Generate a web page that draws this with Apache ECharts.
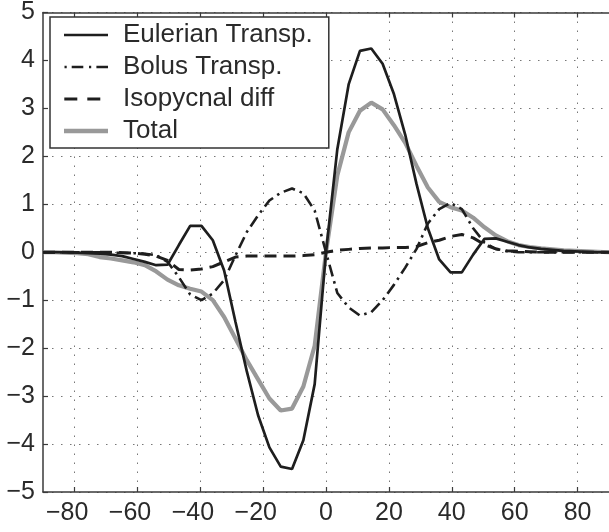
<!DOCTYPE html>
<html>
<head>
<meta charset="utf-8">
<script src="https://cdn.jsdelivr.net/npm/echarts@6/dist/echarts.min.js"></script>
<style>
html,body{margin:0;padding:0;background:#fff;}
#chart{width:609px;height:532px;}
</style>
</head>
<body>
<div id="chart"></div>
<script>
// latitude grid (degrees)
const lat = [-90,-86.4,-82.8,-79.2,-75.6,-72,-68.4,-64.8,-61.2,-57.6,-54,-50.4,-46.8,-43.2,-39.6,-36,-32.4,-28.8,-25.2,-21.6,-18,-14.4,-10.8,-7.2,-3.6,0,3.6,7.2,10.8,14.4,18,21.6,25.2,28.8,32.4,36,39.6,43.2,46.8,50.4,54,57.6,61.2,64.8,68.4,72,75.6,79.2,82.8,86.4,90];

const eulerian = [0,0,0,-0.01,-0.02,-0.03,-0.05,-0.08,-0.14,-0.2,-0.27,-0.26,0.15,0.55,0.55,0.25,-0.38,-1.45,-2.48,-3.4,-4.07,-4.47,-4.52,-3.92,-2.75,0,2.15,3.5,4.2,4.25,3.93,3.3,2.45,1.42,0.5,-0.15,-0.42,-0.42,-0.05,0.28,0.29,0.22,0.15,0.1,0.07,0.05,0.03,0.02,0.01,0,0];

const bolus = [0,0,0,0,0,0,-0.01,-0.01,-0.02,-0.03,-0.06,-0.2,-0.52,-0.88,-1.0,-0.86,-0.58,-0.07,0.42,0.77,1.08,1.24,1.33,1.23,0.87,0,-0.85,-1.15,-1.32,-1.25,-1.0,-0.68,-0.32,0.07,0.6,0.9,1.03,0.9,0.5,0.2,0.07,0.02,0,0,0,0,0,0,0,0,0];

const isopycnal = [0,0,0,0,0,0,0,-0.01,-0.02,-0.04,-0.08,-0.17,-0.36,-0.37,-0.35,-0.3,-0.2,-0.1,-0.08,-0.08,-0.08,-0.08,-0.08,-0.07,-0.05,0,0.04,0.06,0.08,0.09,0.09,0.1,0.1,0.12,0.2,0.25,0.33,0.37,0.3,0.16,0.07,0.03,0.02,0.01,0,0,0,0,0,0,0];

const total = [0,0,-0.01,-0.02,-0.04,-0.1,-0.13,-0.17,-0.21,-0.27,-0.4,-0.57,-0.69,-0.76,-0.82,-1.0,-1.35,-1.8,-2.25,-2.65,-3.05,-3.3,-3.26,-2.8,-1.95,0,1.6,2.5,2.95,3.12,2.98,2.65,2.28,1.8,1.35,1.05,0.94,0.87,0.72,0.52,0.35,0.23,0.15,0.11,0.08,0.06,0.04,0.03,0.02,0.01,0];

const seriesNames = ['Eulerian Transp.', 'Bolus Transp.', 'Isopycnal diff', 'Total'];
const xTicks = [-80,-60,-40,-20,0,20,40,60,80];

function pairs(ys){ return lat.map((x,i)=>[x, ys[i]]); }

const FONT = 'Liberation Sans, Arial, Helvetica, sans-serif';
const chart = echarts.init(document.getElementById('chart'), null, {renderer:'canvas'});

const axisColor = '#3a3a3a';
const gridDot = {show:true, lineStyle:{color:'#777', width:1, type:[1.5,7.5]}};

// legend icon shapes (44 x 5 box, corner specks keep the box size)
const corners = 'M0,0h0.01v0.01h-0.01Z M43.99,4.99h0.01v0.01h-0.01Z ';
const iconSolid = 'path://' + corners + 'M0,1.15H44V3.85H0Z';
const iconDashDot = 'path://' + corners + 'M0.5,1.15H2.7V3.85H0.5Z M7.7,1.15H19.3V3.85H7.7Z M25,1.15H27.2V3.85H25Z M32.4,1.15H44V3.85H32.4Z';
const iconDash = 'path://' + corners + 'M0.3,1.1H13.3V3.9H0.3Z M23.3,1.1H36.3V3.9H23.3Z';
const iconThick = 'path://' + corners + 'M0,0.2H44V4.8H0Z';

chart.setOption({
  backgroundColor:'#fff',
  animation:false,
  grid:{left:43, top:12, right:-4, bottom:40, containLabel:false},
  legend:{
    orient:'vertical', left:50, top:17,
    itemWidth:44, itemHeight:5, itemGap:6,
    padding:[5,16,4,14],
    borderColor:'#333', borderWidth:1.5, backgroundColor:'#fff',
    textStyle:{fontFamily:FONT, fontSize:26, color:'#2a2a2a', padding:[0,0,0,10]},
    data:[
      {name:seriesNames[0], icon:iconSolid},
      {name:seriesNames[1], icon:iconDashDot},
      {name:seriesNames[2], icon:iconDash},
      {name:seriesNames[3], icon:iconThick}
    ]
  },
  xAxis:[{
    type:'value', min:-90, max:90,
    axisLine:{show:true, onZero:false, lineStyle:{color:axisColor, width:1.5}},
    axisTick:{show:true, inside:true, length:5, customValues:xTicks, lineStyle:{color:axisColor, width:1.2}},
    axisLabel:{
      customValues:xTicks, margin:9,
      fontFamily:FONT, fontSize:25, color:'#2a2a2a',
      formatter:function(v){
        if(v<0) return '{m|\u2212}{d|'+Math.abs(v)+'}{h|\u2212}';
        return '{d|'+v+'}';
      },
      rich:{
        m:{fontFamily:FONT, fontSize:25, color:'#2a2a2a'},
        d:{fontFamily:FONT, fontSize:25, color:'#2a2a2a'},
        h:{fontFamily:FONT, fontSize:25, color:'rgba(0,0,0,0)'}
      }
    },
    splitLine:gridDot
  },{
    type:'value', min:-90, max:90, position:'top',
    axisLine:{show:true, onZero:false, lineStyle:{color:axisColor, width:1.5}},
    axisTick:{show:true, inside:true, length:5, customValues:xTicks, lineStyle:{color:axisColor, width:1.2}},
    axisLabel:{show:false}, splitLine:{show:false}
  }],
  yAxis:[{
    type:'value', min:-5, max:5, interval:1,
    axisLine:{show:true, onZero:false, lineStyle:{color:axisColor, width:1.5}},
    axisTick:{show:true, inside:true, length:5, lineStyle:{color:axisColor, width:1.2}},
    axisLabel:{margin:8, fontFamily:FONT, fontSize:25, color:'#2a2a2a',
      formatter:function(v){ return v<0 ? '\u2212'+Math.abs(v) : String(v); }},
    splitLine:gridDot
  }],
  series:[
    {name:seriesNames[0], type:'line', data:pairs(eulerian), showSymbol:false, symbol:'none',
     lineStyle:{color:'#1e1e1e', width:2.7}, itemStyle:{color:'#1e1e1e'}, z:4},
    {name:seriesNames[1], type:'line', data:pairs(bolus), showSymbol:false, symbol:'none',
     lineStyle:{color:'#1e1e1e', width:2.6, type:[12,5,2.5,5]}, itemStyle:{color:'#1e1e1e'}, z:3},
    {name:seriesNames[2], type:'line', data:pairs(isopycnal), showSymbol:false, symbol:'none',
     lineStyle:{color:'#1e1e1e', width:3, type:[12,7]}, itemStyle:{color:'#1e1e1e'}, z:3},
    {name:seriesNames[3], type:'line', data:pairs(total), showSymbol:false, symbol:'none',
     lineStyle:{color:'#999', width:4.2}, itemStyle:{color:'#999'}, z:2}
  ]
});
</script>
</body>
</html>
